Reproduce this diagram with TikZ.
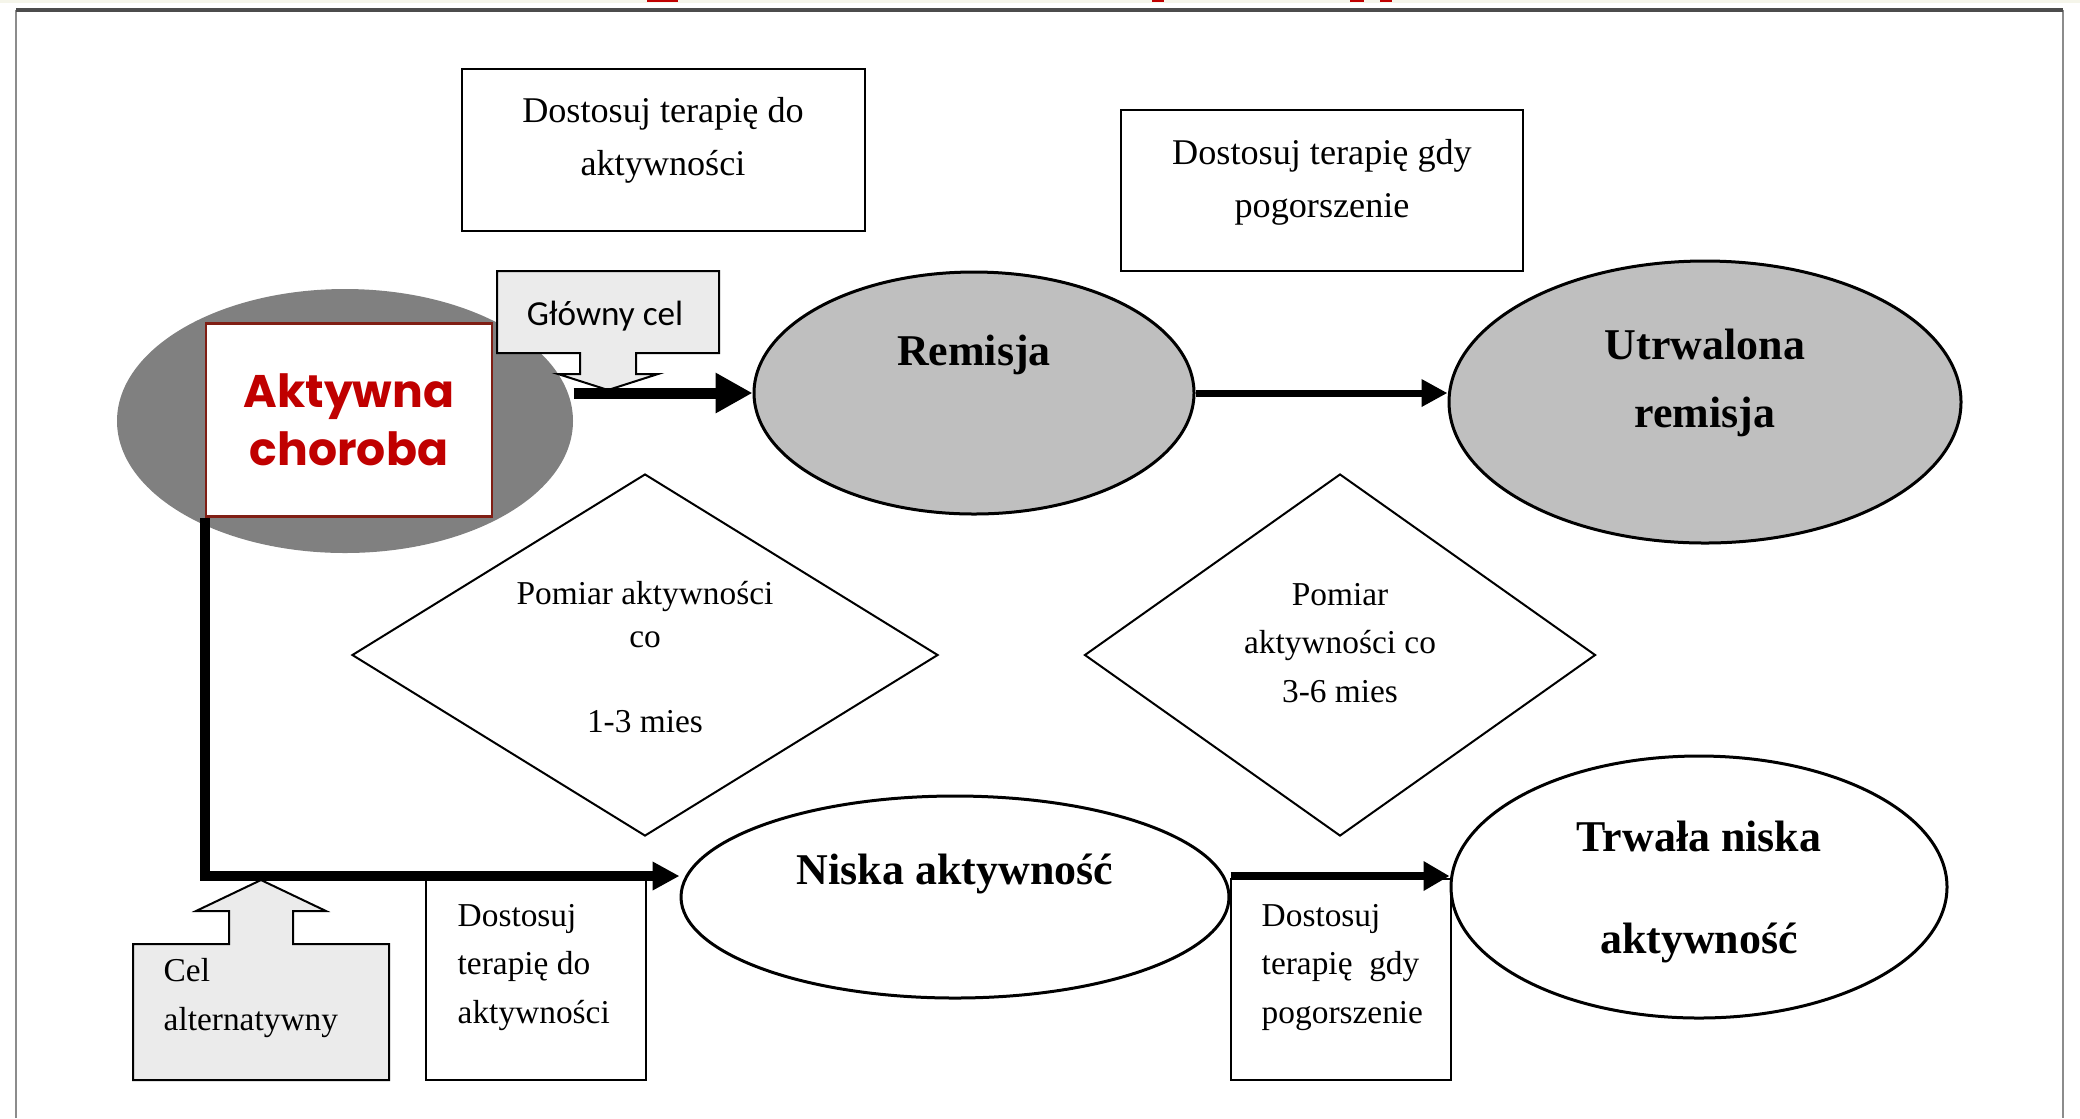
\documentclass[tikz,border=0pt]{standalone}
\usepackage{fontspec}
\setmainfont{Liberation Serif}
\newfontfamily\gothicfont{Poppins}
\newfontfamily\calibrifont{Carlito}
\usetikzlibrary{arrows.meta,positioning,calc,shapes.geometric}

\definecolor{akred}{RGB}{192,0,0}
\definecolor{akborder}{RGB}{128,30,20}
\definecolor{pasek}{RGB}{245,245,234}

\tikzset{
  stan/.style={ellipse, draw, line width=0.3mm, inner sep=0pt},
  pomiar/.style={diamond, draw, line width=0.2mm, inner sep=0pt},
  ramka/.style={rectangle, draw, line width=0.2mm, inner sep=0pt},
  tekst/.style={inner sep=0pt, align=center, font=\fontsize{9.5}{12.2}\selectfont},
  opis/.style={inner sep=0pt, align=left, anchor=north west,
    font=\fontsize{9.5}{13.7}\selectfont},
  napis/.style={inner sep=0pt, align=center, font=\bfseries\fontsize{12.5}{15}\selectfont},
  dymek/.style={line width=0.2mm, fill=black!8},
  gruba/.style={line width=1.1mm, -{Triangle[length=3.7mm,width=3.8mm]}},
  gruba2/.style={line width=1.05mm, -{Triangle[length=2.7mm,width=2.7mm]}},
  srednia/.style={line width=0.7mm, -{Triangle[length=2.6mm,width=2.6mm]}},
  srednia2/.style={line width=0.8mm, -{Triangle[length=2.6mm,width=2.8mm]}}
}

\begin{document}
\begin{tikzpicture}[x=0.1mm, y=-0.1mm]
  \useasboundingbox (0,0) rectangle (2080,1118);
  % ramka slajdu
  \fill[pasek] (0,0) rectangle (2080,3);
  \foreach \a/\b in {647/678, 1152/1164, 1350/1364, 1380/1392}
    \fill[akred] (\a,0) rectangle (\b,2);
  \draw[black!45, line width=0.2mm] (16,1118) -- (16,11) -- (2063,11) -- (2063,1118);
  \draw[black!70, line width=0.45mm] (16,10) -- (2063,10);

  % ramki u gory
  \node[ramka, minimum width=40.3mm, minimum height=16.2mm] (dostA) at (663,150) {};
  \node[tekst, font=\fontsize{10.3}{15}\selectfont] (dostAT)
    at ([yshift=0.95mm]dostA.center) {Dostosuj terapię do\\aktywności};
  \node[ramka, minimum width=40.2mm, minimum height=16.1mm] (dostB) at (1322,190) {};
  \node[tekst, font=\fontsize{10.3}{15}\selectfont] (dostBT)
    at ([yshift=0.8mm]dostB.center) {Dostosuj terapię gdy\\pogorszenie};

  % aktywna choroba
  \node[ellipse, fill=black!50, minimum width=45.6mm, minimum height=26.4mm] (tlo) at (345,421) {};
  \node[rectangle, draw=akborder, line width=0.25mm, fill=white, minimum width=28.6mm,
    minimum height=19.3mm, text=akred, align=center,
    font=\gothicfont\bfseries\fontsize{13}{16.5}\selectfont] (aktywna) at (349,420) {Aktywna\\choroba};

  % glowny cel
  \def\gx{608}\def\gy{312}
  \draw[dymek] (\gx-111,\gy-41) -- (\gx+111,\gy-41) -- (\gx+111,\gy+41) -- (\gx+28,\gy+41)
    -- (\gx+28,\gy+62) -- (\gx+50,\gy+62) -- (\gx,\gy+78) -- (\gx-50,\gy+62) -- (\gx-28,\gy+62)
    -- (\gx-28,\gy+41) -- (\gx-111,\gy+41) -- cycle;
  \node[font=\calibrifont\fontsize{10}{12}\selectfont] (glowny) at (\gx-3,\gy+4) {Główny cel};

  % stany
  \node[stan, fill=black!25, minimum width=44mm, minimum height=24.2mm] (remisja) at (974,393) {};
  \node[napis] (remisjaT) at ([yshift=3.8mm]remisja.center) {Remisja};
  \node[stan, fill=black!25, minimum width=51.2mm, minimum height=28.2mm] (utrwalona) at (1705,402) {};
  \node[napis, font=\bfseries\fontsize{12.5}{19.3}\selectfont] (utrwalonaT)
    at ([yshift=1.9mm]utrwalona.center) {Utrwalona\\remisja};
  \node[stan, minimum width=54.8mm, minimum height=20.2mm] (niska) at (955,897) {};
  \node[napis] (niskaT) at ([yshift=2.3mm]niska.center) {Niska aktywność};
  \node[stan, minimum width=49.6mm, minimum height=26.2mm] (trwala) at (1699,887) {};
  \node[napis, font=\bfseries\fontsize{12.5}{29}\selectfont] (trwalaT)
    at ([yshift=-0.5mm]trwala.center) {Trwała niska\\aktywność};

  % pomiary
  \node[pomiar, minimum width=58.6mm, minimum height=36.2mm] (pomiarA) at (645,655) {};
  \node[tekst] (pomiarAT) at ([yshift=-0.2mm]pomiarA.center)
    {Pomiar aktywności\\co\\[12.2pt]1-3 mies};
  \node[pomiar, minimum width=51.1mm, minimum height=36.2mm] (pomiarB) at (1340,655) {};
  \node[tekst, font=\fontsize{9.5}{13.7}\selectfont] (pomiarBT)
    at ([yshift=1.2mm]pomiarB.center) {Pomiar\\aktywności co\\3-6 mies};

  % ramki u dolu
  \node[ramka, minimum width=22mm, minimum height=20.1mm] (dostC) at (536,979.5) {};
  \node[opis] (dostCT) at ([xshift=3.2mm,yshift=-2.6mm]dostC.north west)
    {Dostosuj\\terapię do\\aktywności};
  \node[ramka, minimum width=22mm, minimum height=20.1mm] (dostD) at (1341,979.5) {};
  \node[opis] (dostDT) at ([xshift=3.1mm,yshift=-2.6mm]dostD.north west)
    {Dostosuj\\terapię\ \ gdy\\pogorszenie};

  % cel alternatywny
  \def\cx{261}
  \draw[dymek] (133,944) -- (\cx-32,944) -- (\cx-32,911) -- (\cx-65,911) -- (\cx,880)
    -- (\cx+65,911) -- (\cx+32,911) -- (\cx+32,944) -- (389,944) -- (389,1080)
    -- (133,1080) -- cycle;
  \node[opis] (celalt) at (163,958) {Cel\\alternatywny};

  % strzalki
  \draw[gruba] (tlo.east |- remisja.west) -- (remisja.west);
  \draw[srednia] (remisja.east) -- (remisja.east -| utrwalona.west);
  \draw[gruba2] (aktywna.south west) |- ([yshift=2.1mm]niska.west);
  \draw[srednia2] ([yshift=2.1mm]niska.east) -- ([yshift=2.1mm]niska.east -| trwala.west);
\end{tikzpicture}
\end{document}
